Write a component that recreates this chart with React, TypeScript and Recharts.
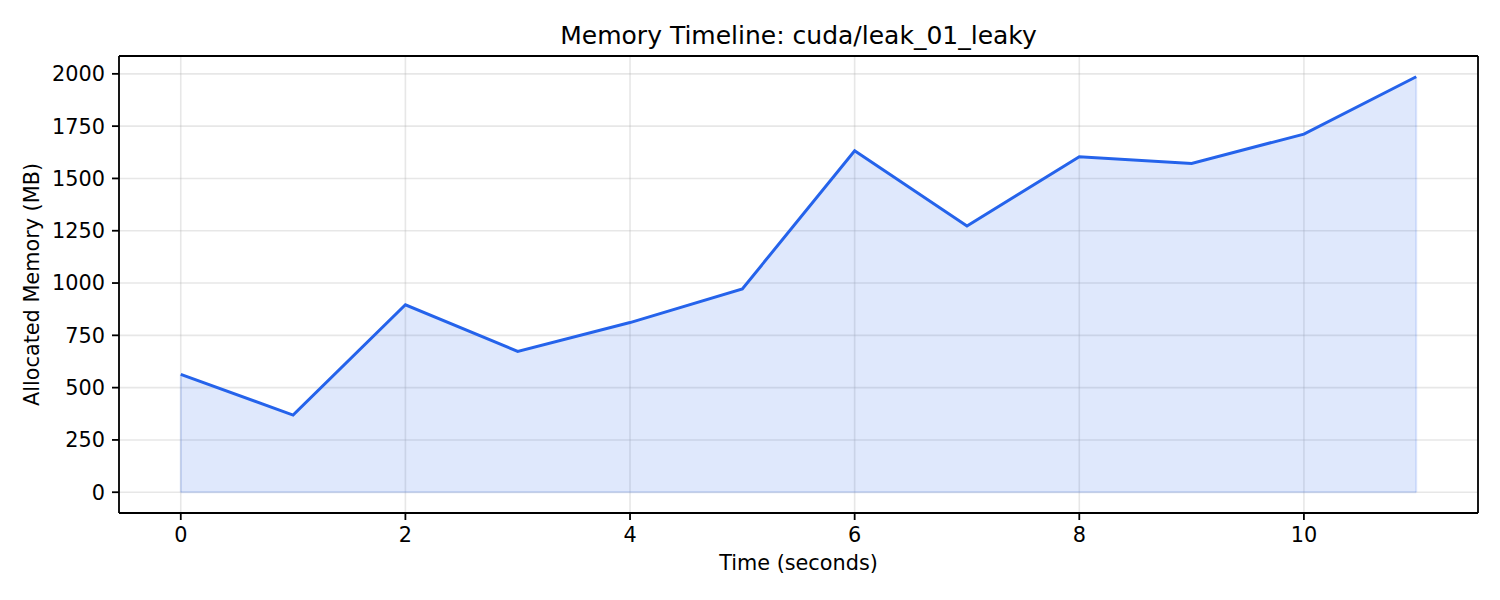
import React from 'react';
import {
  ComposedChart,
  Area,
  XAxis,
  YAxis,
  CartesianGrid,
  ReferenceLine,
} from 'recharts';

// seconds since start
const times = [0, 1, 2, 3, 4, 5, 6, 7, 8, 9, 10, 11];
// allocated memory, MB
const memoryMB = [563, 369, 896, 673, 811, 972, 1632, 1273, 1604, 1572, 1712, 1986];

const xTicks = [0, 2, 4, 6, 8, 10];
const yTicks = [0, 250, 500, 750, 1000, 1250, 1500, 1750, 2000];

const xDomain = [-0.55, 11.55];
const yDomain = [-99.3, 2085.3];

const data = times.map((t, i) => ({ t, mem: memoryMB[i] }));

const FONT = '"DejaVu Sans", sans-serif';
const BLUE = '#2563eb';
const tickStyle = { fill: '#000', fontSize: 20.8, fontFamily: FONT };

const last = times.length - 1;
const edgeStroke = { stroke: BLUE, strokeOpacity: 0.15, strokeWidth: 2 };

const MemoryTimeline: React.FC = () => {
  return (
    <div style={{ position: 'absolute', left: 0, top: 0, width: 1500, height: 600, background: '#fff' }}>
      <div
        style={{
          position: 'absolute',
          left: 119,
          width: 1359,
          top: 23,
          textAlign: 'center',
          fontFamily: FONT,
          fontSize: 25,
          lineHeight: '25px',
          color: '#000',
        }}
      >
        Memory Timeline: cuda/leak_01_leaky
      </div>
      <ComposedChart
        width={1500}
        height={600}
        data={data}
        margin={{ top: 56, right: 22, bottom: 27, left: 29 }}
      >
        <CartesianGrid stroke="#b0b0b0" strokeOpacity={0.3} strokeWidth={1.6} />
        <XAxis
          type="number"
          dataKey="t"
          domain={xDomain}
          allowDataOverflow
          ticks={xTicks}
          height={60}
          stroke="#000"
          strokeWidth={1.8}
          tickSize={7}
          tickMargin={7}
          tick={tickStyle}
          label={{
            value: 'Time (seconds)',
            position: 'insideBottom',
            offset: 3,
            style: { fill: '#000', fontSize: 20.8, fontFamily: FONT },
          }}
        />
        <YAxis
          type="number"
          domain={yDomain}
          allowDataOverflow
          ticks={yTicks}
          width={90}
          stroke="#000"
          strokeWidth={1.8}
          tickSize={7}
          tickMargin={7}
          tick={tickStyle}
          label={{
            value: 'Allocated Memory (MB)',
            angle: -90,
            position: 'insideLeft',
            offset: 3,
            style: { fill: '#000', fontSize: 20.8, fontFamily: FONT, textAnchor: 'middle' },
          }}
        />
        <Area
          type="linear"
          dataKey="mem"
          baseValue={0}
          stroke={BLUE}
          strokeWidth={3}
          fill={BLUE}
          fillOpacity={0.15}
          dot={false}
          activeDot={false}
          isAnimationActive={false}
        />
        <ReferenceLine segment={[{ x: times[0], y: 0 }, { x: times[last], y: 0 }]} {...edgeStroke} />
        <ReferenceLine segment={[{ x: times[last], y: 0 }, { x: times[last], y: memoryMB[last] }]} {...edgeStroke} />
        <ReferenceLine segment={[{ x: times[0], y: 0 }, { x: times[0], y: memoryMB[0] }]} {...edgeStroke} />
        {/* top and right spines */}
        <ReferenceLine y={yDomain[1]} stroke="#000" strokeWidth={1.8} />
        <ReferenceLine x={xDomain[1]} stroke="#000" strokeWidth={1.8} />
      </ComposedChart>
    </div>
  );
};

export default function App() {
  return <MemoryTimeline />;
}
